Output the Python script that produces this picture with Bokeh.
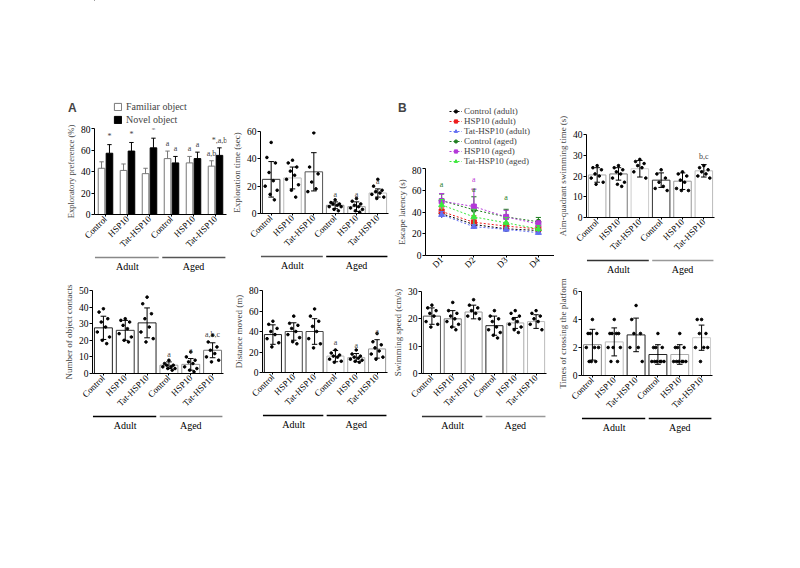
import math
from bokeh.plotting import figure
from bokeh.layouts import row, column
from bokeh.models import Range1d, FixedTicker, Legend, LegendItem
from bokeh.core.properties import value
from bokeh.embed import file_html
from bokeh.resources import INLINE

SERIF = "Liberation Serif"
SANS = "Liberation Sans"

# ---------------- categories ----------------
treatments = ["Control", "HSP10", "Tat-HSP10", "Control", "HSP10", "Tat-HSP10"]
age_groups = ["Adult", "Aged"]
days = ["D1", "D2", "D3", "D4"]

# ---------------- novel object test: exploratory preference (%) ----------------
pref_familiar_mean = [43, 41, 38, 52, 48, 45]
pref_familiar_sd = [6, 6, 5, 7, 6, 5]
pref_novel_mean = [57, 59, 62, 48, 52, 55]
pref_novel_sd = [8, 8, 9, 6, 6, 7]
pref_familiar_marks = ["", "", "", "a", "a", "a,b"]
pref_novel_marks = ["*", "*", "*", "a", "a", "*,a,b"]

# ---------------- exploration time (sec) ----------------
explore_mean = [25, 26, 30.5, 6, 5, 15]
explore_sd = [13, 8, 14, 2.5, 3.5, 3]
explore_dots = [
    [52, 41, 37, 30, 24, 20, 17, 14, 10],
    [39, 37, 34, 31, 28, 25, 21, 17, 12],
    [59, 34, 29, 23, 18, 16],
    [10, 8, 7, 7, 6, 5, 5, 3, 2],
    [11, 9, 7, 6, 5, 4, 3, 2, 1],
    [25, 20, 17, 16, 15, 14, 12, 11],
]
explore_marks = ["", "", "", "a", "a", "a"]

# ---------------- Morris water maze: escape latency (s) ----------------
lat_control_adult = [38.5, 28.5, 24.5, 23]
lat_hsp10_adult = [40.5, 30.5, 27, 24.5]
lat_tat_adult = [37.5, 26.5, 24, 21]
lat_control_aged = [50.5, 42, 35.5, 31]
lat_hsp10_aged = [50, 45, 35.5, 29]
lat_tat_aged = [46.5, 35.5, 30, 24.5]
lat_control_adult_sd = [4, 2, 2, 2]
lat_hsp10_adult_sd = [4, 6, 3, 2]
lat_tat_adult_sd = [3, 2, 2, 2]
lat_control_aged_sd = [6, 12, 7, 4]
lat_hsp10_aged_sd = [7, 16, 6, 3]
lat_tat_aged_sd = [5, 7, 5, 3]
lat_names = ["Control (adult)", "HSP10 (adult)", "Tat-HSP10 (adult)",
             "Control (aged)", "HSP10 (aged)", "Tat-HSP10 (aged)"]
lat_mark_day = [1, 2, 2, 3]
lat_mark_y = [61, 66, 57, 49]
lat_mark_text = ["a", "a", "a", "a"]

# ---------------- aim-quadrant swimming time (s) ----------------
quad_mean = [20.5, 21, 23.5, 18, 17.5, 22.5]
quad_sd = [3.5, 3, 4, 3.5, 4, 3]
quad_dots = [
    [25, 24, 23, 21, 20, 19, 17, 16],
    [25, 24, 23, 22, 21, 19, 17, 16, 15],
    [28, 27, 26, 25, 24, 22, 19],
    [23, 21, 19, 17, 15, 14, 13],
    [22, 21, 20, 18, 17, 14, 13, 13],
    [25, 24, 23, 22, 21, 20, 19],
]
quad_marks = ["", "", "", "", "", "b,c"]

# ---------------- number of object contacts ----------------
contact_mean = [27.5, 26, 30.5, 5, 5.5, 14]
contact_sd = [7, 6, 9, 2, 3.5, 4.5]
contact_dots = [
    [39, 37, 33, 31, 28, 25, 22, 20, 18],
    [33, 32, 31, 29, 27, 24, 22, 20, 19],
    [46, 42, 36, 33, 28, 25, 21, 19],
    [8, 6, 5, 5, 4, 4, 3, 3, 2],
    [13, 10, 8, 7, 6, 4, 3, 2, 1],
    [23, 19, 16, 14, 12, 10, 8, 7],
]
contact_marks = ["", "", "", "a", "a", "a,b,c"]

# ---------------- distance moved (m) ----------------
distance_mean = [37, 40, 40, 16, 14.5, 23]
distance_sd = [9.5, 8.5, 12.5, 5.5, 4, 9]
distance_dots = [
    [50, 47, 43, 40, 37, 33, 29, 25],
    [55, 48, 46, 43, 40, 37, 34, 30, 28],
    [62, 55, 50, 45, 40, 33, 28, 24],
    [22, 19, 17, 16, 15, 13, 11, 10],
    [22, 18, 16, 15, 14, 13, 12, 11, 10],
    [38, 30, 27, 24, 21, 18, 15, 13],
]
distance_marks = ["", "", "", "a", "a", "a"]

# ---------------- swimming speed (cm/s) ----------------
speed_mean = [21, 20, 22.5, 17.5, 18.5, 19]
speed_sd = [3, 3, 2.5, 3.5, 2, 2.5]
speed_dots = [
    [25, 24, 23, 22, 21, 19, 18, 17],
    [26, 23, 22, 21, 20, 19, 18, 17, 16],
    [27, 25, 24, 23, 22, 21, 20],
    [23, 21, 20, 19, 17, 16, 15, 14, 13],
    [23, 22, 21, 20, 19, 18, 17, 16, 15],
    [23, 22, 21, 20, 19, 18, 16],
]

# ---------------- times of crossing the platform ----------------
cross_mean = [2.2, 2.4, 2.9, 1.5, 1.5, 2.7]
cross_sd = [1.1, 1.0, 1.2, 0.7, 0.7, 0.9]
cross_dots = [
    [4, 3, 3, 3, 2, 2, 2, 1, 1, 1],
    [4, 3, 3, 3, 3, 2, 2, 2, 1, 1],
    [5, 4, 3, 3, 2, 2, 1],
    [3, 2, 2, 2, 1, 1, 1, 1, 1, 1],
    [3, 2, 2, 2, 1, 1, 1, 1, 1, 1],
    [4, 4, 3, 3, 2, 2, 2, 1],
]

CENTERS = [i + 0.5 for i in range(6)]
GROUP_X0 = [0.02, 3.08]
GROUP_X1 = [2.92, 5.95]
GROUP_MID = [1.5, 4.5]
TOP_ROW_H = 276
BOTTOM_ROW_H = 568 - TOP_ROW_H
OFFSCREEN = -1000  # legend proxies sit far outside the visible header ranges


def spread(n):
    pattern = [0.0, -0.2, 0.2, -0.1, 0.1, -0.28, 0.28, -0.05, 0.15, -0.15]
    return [pattern[i % len(pattern)] for i in range(n)]


def blank_figure(w, h, left, right, x_range, y_range):
    f = figure(frame_width=w, frame_height=h,
               min_border_left=left, min_border_right=right,
               min_border_top=0, min_border_bottom=0,
               x_range=x_range, y_range=y_range,
               x_axis_location=None, y_axis_location=None,
               output_backend="svg", toolbar_location=None)
    f.grid.visible = False
    f.outline_line_color = None
    return f


def base_figure(cell_w, left, frame_w, top, frame_h, x_range, y_range):
    p = figure(frame_width=frame_w, frame_height=frame_h,
               min_border_left=left, min_border_right=cell_w - left - frame_w,
               min_border_top=top, min_border_bottom=2,
               x_range=x_range, y_range=y_range,
               output_backend="svg", toolbar_location=None)
    p.grid.visible = False
    p.outline_line_color = None
    for ax in (p.xaxis[0], p.yaxis[0]):
        ax.axis_line_color = "black"
        ax.major_tick_line_color = "black"
        ax.major_tick_out = 3
        ax.major_tick_in = 0
        ax.minor_tick_line_color = None
        ax.major_label_text_font = SERIF
        ax.major_label_text_font_size = "9.5px"
        ax.major_label_text_color = "black"
        ax.major_label_standoff = 1
        ax.axis_label_text_font = SERIF
        ax.axis_label_text_font_size = "9px"
        ax.axis_label_text_font_style = "normal"
        ax.axis_label_standoff = 2
    p.xaxis.major_tick_out = 2
    p.xaxis.major_label_text_font_size = "9px"
    return p


def treatment_axis(p):
    p.xaxis.ticker = FixedTicker(ticks=CENTERS)
    p.xaxis.major_label_overrides = {c: t for c, t in zip(CENTERS, treatments)}
    p.xaxis.major_label_orientation = math.pi / 4


def group_strip(cell_w, left, frame_w, x_range, colors, strip_h=18):
    s = blank_figure(frame_w, strip_h, left, cell_w - left - frame_w,
                     x_range, Range1d(strip_h, 0))
    s.segment(x0=GROUP_X0, y0=[2, 2], x1=GROUP_X1, y1=[2, 2],
              line_color=colors, line_width=1.5)
    s.text(x=GROUP_MID, y=[11, 11], text=age_groups, text_font=value(SERIF),
           text_font_size="10px", text_align="center", text_baseline="middle",
           text_color="black")
    return s


def panel_letter(hdr, letter, location):
    # single-entry legend that carries the panel letter
    proxy = hdr.scatter(x=[OFFSCREEN], y=[OFFSCREEN], size=1, alpha=0)
    hdr.add_layout(Legend(items=[LegendItem(label=letter, renderers=[proxy])],
                          location=location, margin=0, padding=0, spacing=0,
                          glyph_width=0, glyph_height=12, label_height=12,
                          label_standoff=0, label_text_font=SANS,
                          label_text_font_style="bold", label_text_font_size="12px",
                          border_line_color=None, background_fill_alpha=0))


def scatter_bar_cell(cell_w, left, frame_w, top, frame_h, ymax, ystep, ylabel,
                     means, sds, dots, marks, outlines, group_colors):
    xr = Range1d(0, 6)
    p = base_figure(cell_w, left, frame_w, top, frame_h, xr, Range1d(0, ymax))
    treatment_axis(p)
    p.yaxis.ticker = FixedTicker(ticks=list(range(0, ymax + 1, ystep)))
    p.yaxis.axis_label = ylabel
    p.vbar(x=CENTERS, top=means, width=0.82, fill_color="white",
           line_color=outlines, line_width=1)
    lo = [m - s for m, s in zip(means, sds)]
    hi = [m + s for m, s in zip(means, sds)]
    p.segment(x0=CENTERS, y0=lo, x1=CENTERS, y1=hi, line_color="black", line_width=1)
    cap = 0.13
    for ys in (lo, hi):
        p.segment(x0=[c - cap for c in CENTERS], y0=ys, x1=[c + cap for c in CENTERS],
                  y1=ys, line_color="black", line_width=1)
    dx, dy = [], []
    for c, vals in zip(CENTERS, dots):
        for off, v in zip(spread(len(vals)), vals):
            dx.append(c + off)
            dy.append(v)
    p.scatter(x=dx, y=dy, size=2.6, color="black")
    if marks is not None:
        p.text(x=CENTERS, y=[h + ymax * 0.04 for h in hi], text=marks,
               text_font=value(SERIF), text_font_size="8px", text_align="center",
               text_baseline="bottom", text_color="#444444")
    s = group_strip(cell_w, left, frame_w, xr, group_colors)
    return column(p, s)


# ---------------- panel A: exploratory preference ----------------
def preference_cell():
    cell_w, left, frame_w, top, frame_h = 228, 94, 132, 128, 86
    head_h = top - 3
    # header: panel letter and legend
    hdr = blank_figure(cell_w, head_h, 0, 0, Range1d(0, cell_w), Range1d(head_h, 0))
    kf = hdr.vbar(x=[OFFSCREEN], bottom=[OFFSCREEN], top=[OFFSCREEN + 1], width=1,
                  fill_color="white", line_color="#777777")
    kn = hdr.vbar(x=[OFFSCREEN], bottom=[OFFSCREEN], top=[OFFSCREEN + 1], width=1,
                  fill_color="black", line_color="black")
    hdr.add_layout(Legend(items=[LegendItem(label="Familiar object", renderers=[kf]),
                                 LegendItem(label="Novel object", renderers=[kn])],
                          location=(113, 0), margin=0, padding=0, spacing=2,
                          glyph_width=9, glyph_height=9, label_height=9, label_standoff=4,
                          label_text_font=SERIF, label_text_font_size="10px",
                          border_line_color=None, background_fill_alpha=0))
    panel_letter(hdr, "A", (68, head_h - 115))

    xr = Range1d(0, 6)
    p = base_figure(cell_w, left, frame_w, top - head_h, frame_h, xr, Range1d(0, 80))
    treatment_axis(p)
    p.yaxis.ticker = FixedTicker(ticks=[0, 20, 40, 60, 80])
    p.yaxis.axis_label = "Exploratory preference (%)"
    p.yaxis.axis_label_text_font_size = "8.5px"
    off, w = 0.18, 0.3
    xf = [c - off for c in CENTERS]
    xn = [c + off for c in CENTERS]
    p.vbar(x=xf, top=pref_familiar_mean, width=w, fill_color="white",
           line_color="#777777", line_width=1)
    p.vbar(x=xn, top=pref_novel_mean, width=w, fill_color="black",
           line_color="black", line_width=1)
    cap = 0.1
    for xs, m, sd, col in ((xf, pref_familiar_mean, pref_familiar_sd, "#777777"),
                           (xn, pref_novel_mean, pref_novel_sd, "black")):
        hi = [a + b for a, b in zip(m, sd)]
        p.segment(x0=xs, y0=m, x1=xs, y1=hi, line_color=col, line_width=1)
        p.segment(x0=[x - cap for x in xs], y0=hi, x1=[x + cap for x in xs], y1=hi,
                  line_color=col, line_width=1)
    fh = [a + b + 3 for a, b in zip(pref_familiar_mean, pref_familiar_sd)]
    nh = [a + b + 3 for a, b in zip(pref_novel_mean, pref_novel_sd)]
    p.text(x=xf + xn, y=fh + nh, text=pref_familiar_marks + pref_novel_marks,
           text_font=value(SERIF), text_font_size="8px", text_align="center",
           text_baseline="bottom", text_color="#444444")
    s = group_strip(cell_w, left, frame_w, xr, ["#888888", "#555555"])
    return column(hdr, p, s)


# ---------------- panel B: escape latency ----------------
def latency_cell():
    cell_w, left, frame_w, top, frame_h = 160, 31, 129, 168, 87
    head_h = top - 2
    colors = ["black", "#ee1c1c", "#6470f2", "#1d7d1d", "#b338d8", "#3ee83e"]
    markers = ["circle", "square", "triangle", "circle", "square", "triangle"]
    sizes = [5, 5, 6, 5, 5, 6]

    hdr = blank_figure(cell_w, head_h, 0, 0, Range1d(0, cell_w), Range1d(head_h, 0))
    items = []
    for name, col, mk, sz in zip(lat_names, colors, markers, sizes):
        kl = hdr.line(x=[OFFSCREEN, OFFSCREEN + 1], y=[OFFSCREEN, OFFSCREEN],
                      line_color=col, line_width=1, line_dash="2 2")
        ks = hdr.scatter(x=[OFFSCREEN], y=[OFFSCREEN], marker=mk, size=sz,
                         fill_color=col, line_color=col)
        items.append(LegendItem(label=name, renderers=[kl, ks]))
    hdr.add_layout(Legend(items=items, location=(56, 0), margin=0, padding=0,
                          spacing=0, glyph_width=13, glyph_height=8, label_height=8,
                          label_standoff=2, label_text_font=SERIF,
                          label_text_font_size="9px",
                          border_line_color=None, background_fill_alpha=0))
    panel_letter(hdr, "B", (5, head_h - 115))

    p = base_figure(cell_w, left, frame_w, top - head_h, frame_h,
                    Range1d(0.5, 4.5), Range1d(0, 80))
    p.xaxis.ticker = FixedTicker(ticks=[1, 2, 3, 4])
    p.xaxis.major_label_overrides = {i + 1: d for i, d in enumerate(days)}
    p.xaxis.major_label_orientation = math.pi / 4
    p.yaxis.ticker = FixedTicker(ticks=[0, 20, 40, 60, 80])
    p.yaxis.axis_label = "Escape latency (s)"
    x = [1, 2, 3, 4]
    series = [
        (lat_control_adult, lat_control_adult_sd),
        (lat_hsp10_adult, lat_hsp10_adult_sd),
        (lat_tat_adult, lat_tat_adult_sd),
        (lat_control_aged, lat_control_aged_sd),
        (lat_hsp10_aged, lat_hsp10_aged_sd),
        (lat_tat_aged, lat_tat_aged_sd),
    ]
    for (ys, sd), col, mk, sz in zip(series, colors, markers, sizes):
        lo = [a - b for a, b in zip(ys, sd)]
        hi = [a + b for a, b in zip(ys, sd)]
        p.segment(x0=x, y0=lo, x1=x, y1=hi, line_color=col, line_width=1)
        p.segment(x0=[v - 0.08 for v in x], y0=hi, x1=[v + 0.08 for v in x], y1=hi,
                  line_color=col, line_width=1)
        p.line(x, ys, line_color=col, line_width=1, line_dash="2 2")
        p.scatter(x, ys, marker=mk, size=sz, fill_color=col, line_color=col)
    mark_colors = ["#1d7d1d", "#c040d8", "#1d7d1d", "#1d7d1d"]
    p.text(x=lat_mark_day, y=lat_mark_y, text=lat_mark_text, text_font=value(SERIF),
           text_font_size="8px", text_align="center", text_baseline="bottom",
           text_color=mark_colors)
    return column(hdr, p)


cell_a1 = preference_cell()
cell_a2 = scatter_bar_cell(164, 31, 128, 131, 82, 60, 20, "Exploration time (sec)",
                           explore_mean, explore_sd, explore_dots, explore_marks,
                           ["#333333", "#bbbbbb", "#555555", "#888888", "#999999", "#bbbbbb"],
                           ["#555555", "#000000"])
cell_b1 = latency_cell()
cell_b2 = scatter_bar_cell(248, 28, 128, 134, 83, 40, 10, "Aim-quadrant swimming time (s)",
                           quad_mean, quad_sd, quad_dots, quad_marks,
                           ["#aaaaaa", "#777777", "#cccccc", "#333333", "#999999", "#bbbbbb"],
                           ["#333333", "#999999"])

bt = 290 - TOP_ROW_H
cell_a3 = scatter_bar_cell(230, 92, 131, bt, 83, 50, 10, "Number of object contacts",
                           contact_mean, contact_sd, contact_dots, contact_marks,
                           ["#222222", "#333333", "#222222", "#999999", "#999999", "#777777"],
                           ["#000000", "#888888"])
cell_a4 = scatter_bar_cell(159, 32, 125, bt, 82, 80, 20, "Distance moved (m)",
                           distance_mean, distance_sd, distance_dots, distance_marks,
                           ["#222222", "#444444", "#444444", "#bbbbbb", "#aaaaaa", "#999999"],
                           ["#000000", "#000000"])
cell_b3 = scatter_bar_cell(160, 28, 125, bt + 1, 82, 30, 10, "Swimming speed (cm/s)",
                           speed_mean, speed_sd, speed_dots, None,
                           ["#555555", "#777777", "#999999", "#222222", "#aaaaaa", "#bbbbbb"],
                           ["#333333", "#999999"])
cell_b4 = scatter_bar_cell(251, 28, 131, bt + 1, 84, 6, 2, "Times of crossing the platform",
                           cross_mean, cross_sd, cross_dots, None,
                           ["#888888", "#bbbbbb", "#222222", "#222222", "#aaaaaa", "#cccccc"],
                           ["#000000", "#000000"])

top_row = row(cell_a1, cell_a2, cell_b1, cell_b2, height=TOP_ROW_H)
bottom_row = row(cell_a3, cell_a4, cell_b3, cell_b4, height=BOTTOM_ROW_H)
page = column(top_row, bottom_row)

open("out.html", "w").write(file_html(page, INLINE))
